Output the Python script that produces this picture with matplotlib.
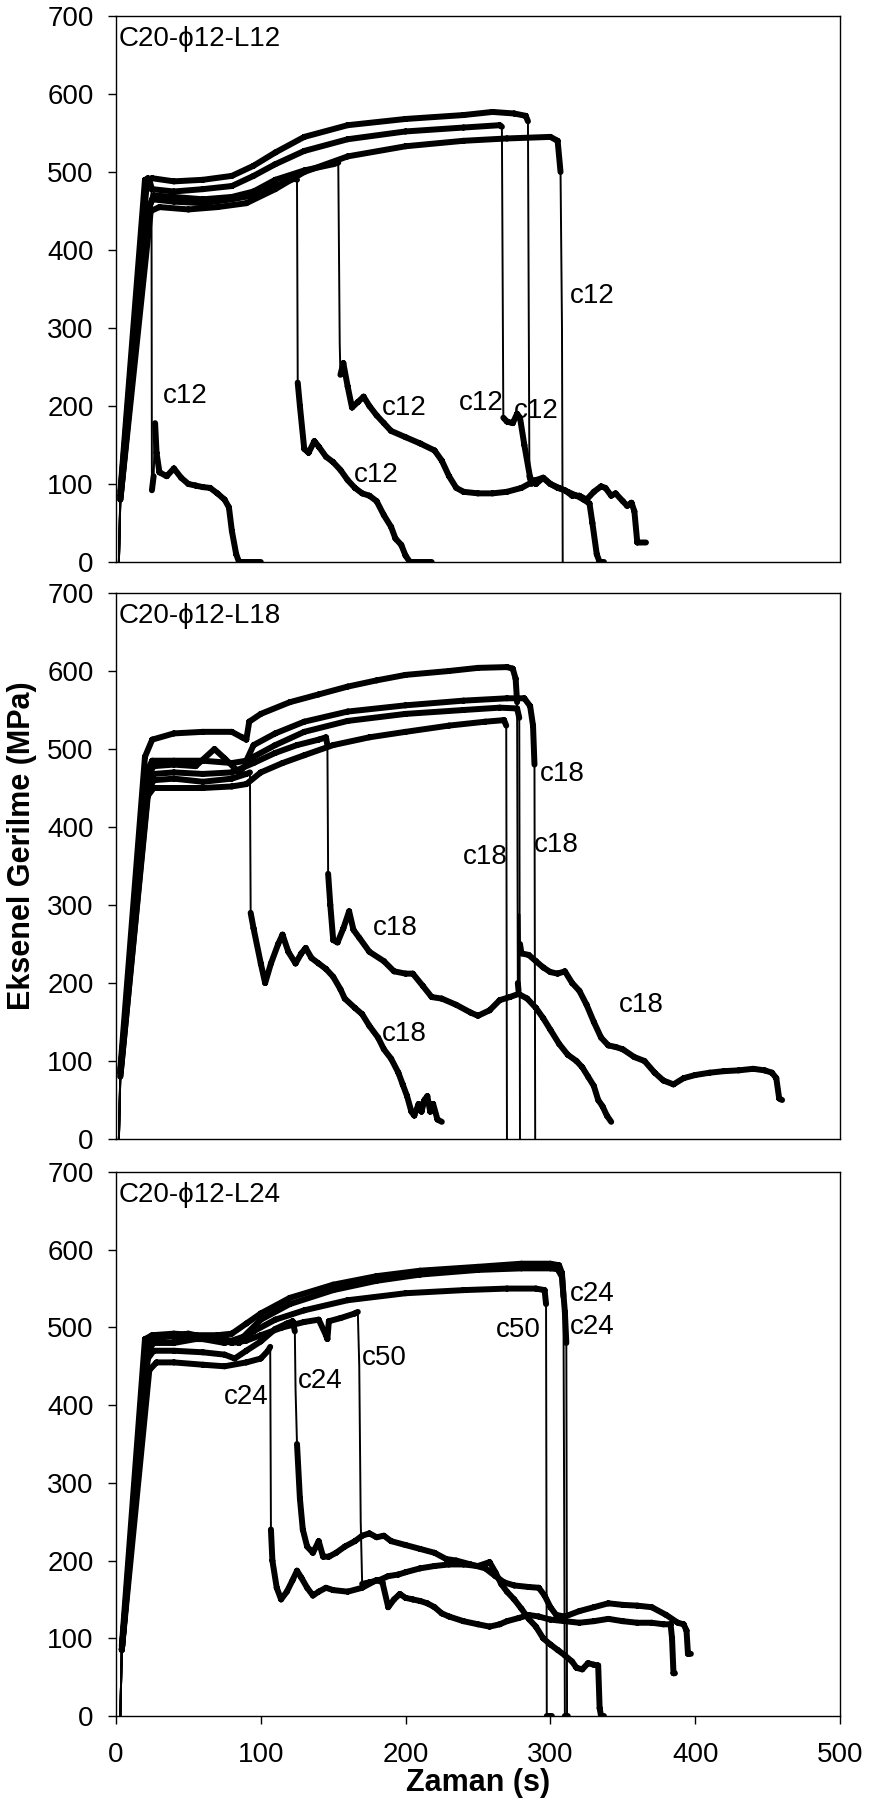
import matplotlib
matplotlib.use("Agg")
import matplotlib.pyplot as plt
import numpy as np

plt.rcParams['font.family'] = ['Liberation Sans', 'DejaVu Sans']

# ---------------- data (time s, axial stress MPa) ----------------
# Panel 1: C20-phi12-L12
L12_A = [(2,0),(3,85),(20,470),(22,492),(23,490),(24.5,480),(24.8,92),(26,110),(27,178),(28,140),(30,115),(35,110),(40,120),(45,108),(50,100),(55,98),(60,96),(65,95),(70,88),(75,80),(78,70),(80,40),(83,10),(85,0),(100,0)]
L12_B = [(2,0),(3,80),(22,450),(25,465),(40,462),(60,460),(80,465),(95,470),(110,482),(124,492),(125,490),(125.5,230),(127,200),(130,145),(133,140),(137,155),(140,148),(145,135),(150,128),(155,118),(160,105),(165,95),(170,88),(175,85),(180,78),(185,60),(190,45),(193,30),(197,22),(200,8),(203,0),(218,0)]
L12_C = [(2,0),(3,80),(23,455),(26,470),(40,468),(60,465),(80,468),(95,475),(110,490),(130,502),(150,510),(153.5,512),(154.5,280),(155,240),(157,255),(160,225),(163,198),(167,205),(171,212),(175,200),(180,188),(185,178),(190,168),(200,160),(210,152),(220,143),(225,130),(230,110),(235,95),(240,90),(250,88),(260,88),(270,90),(280,95),(290,105),(295,108),(300,100),(305,95),(310,92),(315,85),(320,85),(325,80),(330,90),(335,97),(338,95),(342,85),(345,88),(350,78),(353,72),(356,76),(358,65),(360,25),(366,25)]
L12_D = [(2,0),(3,85),(21,480),(25,478),(40,475),(60,478),(80,482),(95,495),(110,510),(130,527),(160,542),(200,552),(240,557),(265,560),(266.5,558),(267.5,185),(270,180),(274,178),(277,190),(279,185),(282,150),(286,108),(290,100),(295,108),(300,100),(306,95),(312,90),(318,85),(323,80),(327,75),(329,50),(332,10),(334,0),(337,0)]
L12_E = [(2,0),(3,90),(20,490),(25,492),(40,488),(60,490),(80,495),(95,508),(110,525),(130,545),(160,560),(200,568),(240,573),(260,577),(275,575),(283,572),(284.5,565),(285.5,110),(287,100)]
L12_F = [(2,0),(3,80),(24,450),(30,455),(50,452),(70,455),(90,460),(110,478),(130,500),(160,520),(200,533),(240,540),(270,543),(300,545),(305,540),(307,500),(308,300),(308.5,0)]
L12_labels = ['c12', 'c12', 'c12', 'c12', 'c12', 'c12']
L12_label_t = [48, 199, 180, 252, 290, 329]
L12_label_s = [213, 197, 112, 204, 193, 341]

# Panel 2: C20-phi12-L18
L18_H = [(2,0),(3,80),(22,445),(26,460),(40,462),(60,458),(80,462),(90,468),(92.5,470),(93,290),(95,270),(100,225),(103,200),(107,225),(112,250),(115,262),(119,240),(124,225),(128,238),(131,245),(135,232),(140,225),(145,218),(150,208),(155,192),(158,180),(165,168),(170,160),(175,145),(181,130),(185,115),(190,103),(195,85),(198,70),(201,55),(204,35),(206,30),(209,45),(211,35),(213,50),(215,55),(217,35),(219,45),(222,25),(225,22)]
L18_I = [(2,0),(3,85),(22,455),(26,468),(40,470),(60,468),(80,470),(95,482),(110,495),(125,505),(140,512),(145,515),(146,505),(146.5,340),(148,300),(150,255),(153,252),(157,270),(161,292),(164,268),(168,258),(175,240),(185,228),(192,215),(200,212),(205,212),(212,196),(218,182),(225,180),(235,172),(245,162),(250,158),(258,165),(265,178),(272,182),(278,186),(284,180),(290,168),(295,155),(300,140),(306,122),(312,108),(318,100),(322,92),(326,80),(330,68),(333,50),(336,42),(339,30),(342,22)]
L18_J = [(2,0),(3,80),(22,440),(26,450),(40,450),(60,450),(80,452),(90,455),(100,470),(115,482),(130,492),(150,505),(175,515),(200,522),(230,530),(255,535),(268,537),(269.5,530),(270,0)]
L18_K = [(2,0),(3,85),(22,465),(26,478),(40,480),(55,478),(68,500),(75,488),(85,470),(95,490),(110,505),(130,522),(160,536),(200,545),(240,550),(265,553),(277,552),(278.5,540),(279,0)]
L18_L = [(2,0),(3,85),(21,470),(25,485),(40,485),(60,485),(80,482),(90,485),(95,505),(110,520),(130,535),(160,548),(200,556),(240,562),(270,565),(282,565),(286,555),(288,530),(289,480),(289.5,0)]
L18_M = [(2,0),(3,90),(20,490),(25,512),(40,520),(60,522),(80,522),(87,515),(90,512),(92,535),(100,545),(120,560),(140,570),(160,580),(180,588),(200,595),(230,600),(250,604),(270,605),(274,603),(276,590),(277,560),(277.5,200),(278,190),(278.5,288),(279,250),(280,238),(285,236),(290,228),(295,220),(300,214),(305,212),(310,215),(315,200),(320,190),(325,172),(330,150),(335,130),(340,120),(345,118),(350,115),(358,105),(365,100),(372,85),(378,75),(385,70),(392,78),(400,82),(410,85),(420,87),(430,88),(440,90),(448,88),(453,85),(456,78),(458,52),(460,50)]
L18_labels = ['c18', 'c18', 'c18', 'c18', 'c18', 'c18']
L18_label_t = [308, 304, 255, 193, 199, 363]
L18_label_s = [468, 377, 362, 271, 135, 172]

# Panel 3: C20-phi12-L24
L24_N = [(3,0),(4,85),(23,445),(28,455),(40,455),(60,452),(75,450),(90,455),(100,460),(105,470),(106.5,475),(107,240),(108,200),(111,165),(114,150),(118,160),(122,175),(125,187),(128,178),(132,165),(136,155),(140,160),(145,165),(150,162),(160,160),(170,165),(180,175),(184,172),(188,140),(192,150),(196,157),(200,152),(205,150),(210,148),(215,145),(220,140),(225,132),(230,128),(240,122),(250,118),(258,115),(265,118),(270,122),(278,126),(285,130),(292,128),(300,124),(310,122),(320,120),(330,122),(340,125),(350,122),(360,120),(370,120),(378,118),(383,118),(384,100),(385,55),(386,55)]
L24_O = [(3,0),(4,85),(22,460),(26,470),(40,470),(60,468),(75,465),(82,460),(90,470),(100,482),(110,498),(118,505),(122,508),(123.5,495),(124,420),(125,350),(127,280),(129,240),(132,218),(136,210),(140,225),(143,205),(147,205),(152,210),(158,218),(165,225),(170,232),(175,235),(180,230),(185,232),(190,225),(200,220),(210,215),(220,210),(228,202),(235,200),(245,195),(255,190),(262,180),(268,172),(275,168),(285,166),(292,165),(296,155),(300,140),(304,130),(310,128),(320,135),(330,140),(340,145),(350,143),(360,142),(370,140),(380,130),(388,120),(392,118),(394,110),(395,80),(397,80)]
L24_P = [(3,0),(4,85),(22,470),(26,480),(40,480),(55,485),(70,485),(80,480),(90,483),(100,490),(115,500),(130,507),(140,510),(145,490),(146,485),(147,508),(155,512),(165,518),(167,520),(168,450),(169,250),(170,170),(175,172),(182,175),(188,180),(195,182),(200,185),(210,190),(220,193),(230,195),(240,195),(250,193),(258,198),(262,185),(266,170),(270,160),(275,150),(280,138),(285,125),(290,115),(295,100),(300,92),(305,85),(310,78),(315,70),(318,62),(322,60),(326,68),(330,66),(333,65),(334,10),(335,0),(337,0)]
L24_Q = [(3,0),(4,85),(22,480),(26,485),(40,490),(50,492),(60,488),(75,485),(85,480),(95,495),(110,510),(130,522),(160,535),(200,544),(240,548),(270,550),(290,550),(296,548),(297,530),(297.5,0),(301,0)]
L24_R = [(3,0),(4,90),(20,485),(25,490),(40,492),(55,490),(70,490),(80,492),(90,505),(100,518),(120,538),(150,555),(180,566),(210,573),(250,578),(280,582),(300,582),(306,580),(308,570),(309,540),(310,0),(312,0)]
L24_S = [(3,0),(4,85),(21,480),(25,488),(40,488),(60,485),(75,480),(88,488),(100,510),(120,530),(150,548),(180,560),(210,568),(250,574),(280,576),(300,576),(305,575),(308,565),(310,520),(311,480),(311.5,0)]
L24_labels = ['c24', 'c24', 'c50', 'c50', 'c24', 'c24']
L24_label_t = [90, 141, 185, 278, 329, 329]
L24_label_s = [410, 431, 461, 497, 543, 500]

panel_titles = ['C20-\u03d512-L12', 'C20-\u03d512-L18', 'C20-\u03d512-L24']
x_ticks = [0, 100, 200, 300, 400, 500]
y_ticks = [0, 100, 200, 300, 400, 500, 600, 700]

panels = [
    ([L12_A, L12_B, L12_C, L12_D, L12_E, L12_F], L12_labels, L12_label_t, L12_label_s),
    ([L18_H, L18_I, L18_J, L18_K, L18_L, L18_M], L18_labels, L18_label_t, L18_label_s),
    ([L24_N, L24_O, L24_P, L24_Q, L24_R, L24_S], L24_labels, L24_label_t, L24_label_s),
]

# ---------------- figure ----------------
W, H = 870, 1800
fig = plt.figure(figsize=(W / 100, H / 100), dpi=100)
left = 116 / W
width = 724 / W
boxes = [(16, 562), (593, 1139), (1172, 1716)]


def draw_curve(ax, pts):
    arr = np.array(pts, dtype=float)
    t, s = arr[:, 0], arr[:, 1]
    # thin line through every point (steep drops stay thin)
    ax.plot(t, s, color='black', lw=1.4, solid_joinstyle='round')
    # noisy (gentle-slope) parts are drawn as a thick band
    tt, ss = [], []
    for i in range(len(t) - 1):
        dt = t[i + 1] - t[i]
        slope = abs(s[i + 1] - s[i]) / dt if dt > 0 else np.inf
        if slope < 60:
            tt += [t[i], t[i + 1], np.nan]
            ss += [s[i], s[i + 1], np.nan]
    ax.plot(tt, ss, color='black', lw=4.3, solid_capstyle='round',
            solid_joinstyle='round')


for k, (curves, labels, lt, ls) in enumerate(panels):
    top, bot = boxes[k]
    ax = fig.add_axes([left, 1 - bot / H, width, (bot - top) / H])
    for c in curves:
        draw_curve(ax, c)
    for lab, tx, sy in zip(labels, lt, ls):
        ax.text(tx, sy, lab, ha='center', va='center', fontsize=20)
    ax.text(0.003, 0.982, panel_titles[k], transform=ax.transAxes,
            ha='left', va='top', fontsize=20)
    ax.set_xlim(0, 500)
    ax.set_ylim(0, 700)
    ax.set_yticks(y_ticks)
    ax.set_xticks(x_ticks)
    ax.tick_params(axis='y', direction='out', length=6, width=1, pad=10,
                   labelsize=20, right=False)
    if k < 2:
        ax.tick_params(axis='x', bottom=False, labelbottom=False)
    else:
        ax.tick_params(axis='x', direction='out', length=6, width=1, pad=13,
                       labelsize=20, top=False)
    for sp in ax.spines.values():
        sp.set_linewidth(1.0)
        sp.set_color('black')

fig.text(22 / W, 1 - 846 / H, 'Eksenel Gerilme (MPa)', rotation=90,
         ha='center', va='center', fontsize=22, fontweight='bold')
fig.text(left + width / 2, 9 / H, 'Zaman (s)', ha='center', va='baseline',
         fontsize=22, fontweight='bold')

fig.savefig('out.png', dpi=100, facecolor='white')
